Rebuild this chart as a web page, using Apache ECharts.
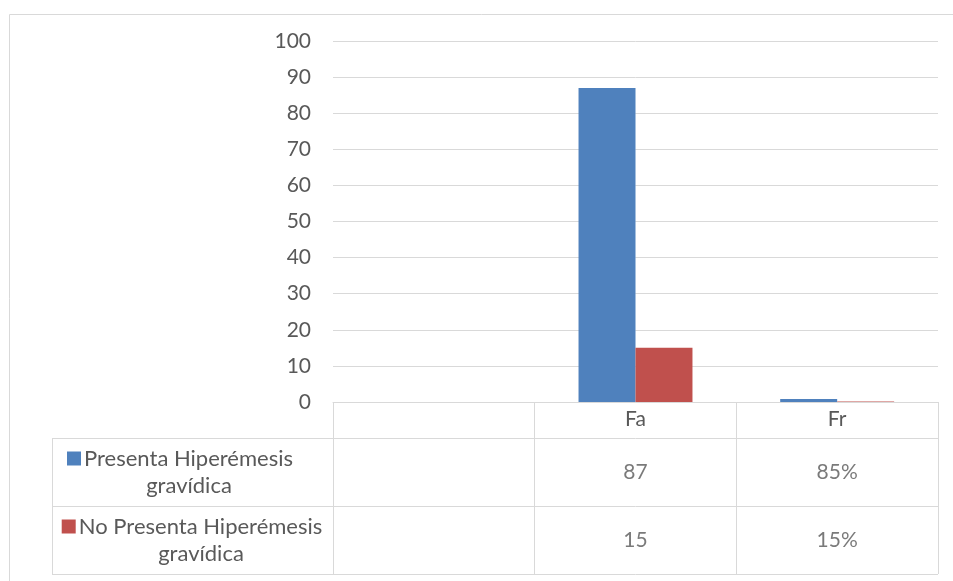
<!DOCTYPE html>
<html>
<head>
<meta charset="utf-8">
<script src="https://cdn.jsdelivr.net/npm/echarts@6/dist/echarts.min.js"></script>
<style>
  html, body { margin: 0; padding: 0; background: #fff; }
  #chart { width: 953px; height: 581px; }
</style>
</head>
<body>
<div id="chart"></div>
<script>
// Categories along the x axis (the first column is left blank)
const categories = ['', 'Fa', 'Fr'];
// Series names (also the row headers of the data table)
const seriesNames = ['Presenta Hiperémesis gravídica', 'No Presenta Hiperémesis gravídica'];
// Values per category: absolute frequency (Fa) and relative frequency (Fr, as a fraction)
const presenta = [null, 87, 0.85];
const noPresenta = [null, 15, 0.15];
// Value-axis ticks
const yTicks = { min: 0, max: 100, interval: 10 };

const colors = ['#4F81BD', '#C0504D'];
const textColor = '#595959';
const lineColor = '#D9D9D9';
const font = 'Lato, "Open Sans", sans-serif';
const fontSize = 21;
const headerFontSize = 22;

const seriesValues = [presenta, noPresenta];

// Text shown in a data-table cell
function cellText(cat, v) {
  if (v === null || v === undefined) return '';
  return cat === 'Fr' ? Math.round(v * 100) + '%' : String(v);
}

// Data-table cells: one scatter point per (category, row) with its text as label
const tableCells = [];
seriesValues.forEach((vals, r) => {
  categories.forEach((cat, c) => {
    const t = cellText(cat, vals[c]);
    if (t) tableCells.push({ value: [cat, seriesNames[r]], text: t });
  });
});

const chart = echarts.init(document.getElementById('chart'));

const rich = {
  t: { color: textColor, fontSize: headerFontSize, fontFamily: font, lineHeight: 27 },
  t2: { color: textColor, fontSize: headerFontSize, fontFamily: font, lineHeight: 27, padding: [0, 0, 0, 18] },
  gap: { width: 24, lineHeight: 27 }
};
colors.forEach((c, i) => {
  rich['sq' + i] = { backgroundColor: c, width: 14, height: 14, lineHeight: 27 };
});

// Row header of the table: legend key, name wrapped onto two lines
function rowHeader(name) {
  const i = seriesNames.indexOf(name);
  const cut = name.lastIndexOf(' ');
  const tail = i === 0 ? '{gap|}' : '';
  return '{sq' + i + '|} {t|' + name.slice(0, cut) + '}' + tail +
    '\n{t2|' + name.slice(cut + 1) + '}' + tail;
}

chart.setOption({
  animation: false,
  textStyle: { fontFamily: font },
  graphic: [{
    type: 'rect',
    left: 7, top: 12,
    shape: { width: 990, height: 620 },
    style: { fill: 'none', stroke: lineColor, lineWidth: 1 },
    silent: true, z: -1
  }],
  grid: [
    { left: 333, right: 15, top: 41, bottom: 179 },
    { left: 333, right: 15, top: 438, bottom: 7 },
    { left: 52, width: 281, top: 438, bottom: 7 }
  ],
  xAxis: [
    {
      gridIndex: 0, type: 'category', data: categories,
      axisLine: { lineStyle: { color: lineColor } },
      axisTick: { show: true, length: 36, lineStyle: { color: lineColor } },
      axisLabel: { color: textColor, fontSize: fontSize, fontFamily: font, margin: 7 },
      splitLine: { show: false }
    },
    {
      gridIndex: 1, type: 'category', data: categories,
      axisLine: { show: false }, axisTick: { show: false }, axisLabel: { show: false },
      splitLine: { show: true, lineStyle: { color: lineColor } }
    },
    {
      gridIndex: 2, type: 'category', data: [''],
      axisLine: { show: false }, axisTick: { show: false }, axisLabel: { show: false },
      splitLine: { show: true, lineStyle: { color: lineColor } }
    }
  ],
  yAxis: [
    {
      gridIndex: 0, type: 'value',
      min: yTicks.min, max: yTicks.max, interval: yTicks.interval,
      axisLine: { show: false }, axisTick: { show: false },
      axisLabel: { color: textColor, fontSize: fontSize, fontFamily: font, margin: 22 },
      splitLine: { lineStyle: { color: lineColor } }
    },
    {
      gridIndex: 1, type: 'category', data: seriesNames, inverse: true,
      axisLine: { show: false }, axisTick: { show: false }, axisLabel: { show: false },
      splitLine: { show: true, lineStyle: { color: lineColor } }
    },
    {
      gridIndex: 2, type: 'category', data: seriesNames, inverse: true, position: 'right',
      axisLine: { show: false }, axisTick: { show: false },
      axisLabel: {
        inside: true, margin: 141, align: 'center',
        formatter: rowHeader,
        rich: rich
      },
      splitLine: { show: true, lineStyle: { color: lineColor } }
    }
  ],
  series: [
    {
      name: seriesNames[0], type: 'bar', xAxisIndex: 0, yAxisIndex: 0,
      data: presenta, itemStyle: { color: colors[0] },
      barGap: 0, barCategoryGap: '43.5%'
    },
    {
      name: seriesNames[1], type: 'bar', xAxisIndex: 0, yAxisIndex: 0,
      data: noPresenta, itemStyle: { color: colors[1] },
      barGap: 0, barCategoryGap: '43.5%'
    },
    {
      type: 'scatter', xAxisIndex: 1, yAxisIndex: 1,
      symbolSize: 0, silent: true,
      data: tableCells,
      label: {
        show: true, position: 'inside',
        color: textColor, fontSize: fontSize, fontFamily: font,
        formatter: (p) => p.data.text
      }
    }
  ]
});
</script>
</body>
</html>
